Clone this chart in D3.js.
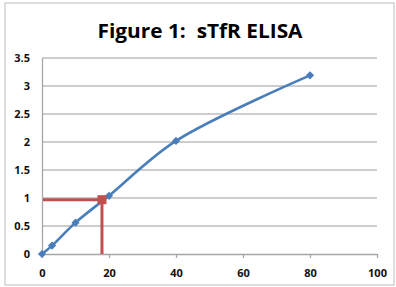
<!DOCTYPE html>
<meta charset="utf-8">
<style>
body { margin: 0; background: #fff; }
text { font-family: "Open Sans", "Liberation Sans", sans-serif; }
.grid line { stroke: #bdbdbd; stroke-width: 1.3px; }
.axis path, .axis line { stroke: #a6a6a6; stroke-width: 1.3px; }
.axis text { font-weight: bold; font-size: 11px; fill: #111; }
.curve { fill: none; stroke: #4a7ebb; stroke-width: 2.6px; }
.dot { fill: #4a7ebb; }
.readout { fill: none; stroke: #c0504d; stroke-width: 3px; }
</style>
<body>
<script src="https://cdn.jsdelivr.net/npm/d3@7"></script>
<script>
// standard curve points
var conc = [0, 3, 10, 20, 40, 80];
var absorb = [0, 0.15, 0.56, 1.04, 2.02, 3.19];
// red read-off point
var readX = [17.9];
var readY = [0.97];
var yTicks = [0, 0.5, 1, 1.5, 2, 2.5, 3, 3.5];
var xTicks = [0, 20, 40, 60, 80, 100];
var title = "Figure 1:  sTfR ELISA";

var W = 396, H = 287;
var margin = {top: 58, right: 19, bottom: 33, left: 42};

var x = d3.scaleLinear().domain([0, 100]).range([margin.left, W - margin.right]);
var y = d3.scaleLinear().domain([0, 3.5]).range([H - margin.bottom, margin.top]);

var svg = d3.select("body").append("svg")
    .attr("width", W)
    .attr("height", H);

// outer border of the chart
svg.append("rect")
    .attr("x", 5).attr("y", 3)
    .attr("width", 389).attr("height", 282)
    .attr("fill", "none")
    .attr("stroke", "#c8c8c8")
    .attr("stroke-width", 1.2);

svg.append("text")
    .attr("x", 200).attr("y", 38)
    .attr("text-anchor", "middle")
    .attr("font-weight", "bold")
    .attr("font-size", 19)
    .attr("textLength", 205)
    .attr("lengthAdjust", "spacingAndGlyphs")
    .style("white-space", "pre")
    .text(title);

// horizontal gridlines
svg.append("g").attr("class", "grid")
  .selectAll("line")
  .data(yTicks.slice(1))
  .join("line")
    .attr("x1", x(0)).attr("x2", x(100))
    .attr("y1", function(d) { return y(d); })
    .attr("y2", function(d) { return y(d); });

svg.append("g").attr("class", "axis")
    .attr("transform", "translate(" + x(0) + ",0)")
    .call(d3.axisLeft(y).tickValues(yTicks).tickSize(0).tickPadding(12)
      .tickFormat(function(d) { return d; }));

svg.append("g").attr("class", "axis")
    .attr("transform", "translate(0," + y(0) + ")")
    .call(d3.axisBottom(x).tickValues(xTicks).tickSize(4).tickSizeOuter(0).tickPadding(11));

var pts = conc.map(function(c, i) { return [c, absorb[i]]; });

var line = d3.line()
    .x(function(d) { return x(d[0]); })
    .y(function(d) { return y(d[1]); })
    .curve(d3.curveCatmullRom.alpha(0.5));

// red read-off lines (under the curve)
var rx = readX[0], ry = readY[0];
svg.append("path")
    .attr("class", "readout")
    .attr("d", "M" + (x(0) + 1) + "," + y(ry) + "H" + x(rx) + "V" + y(0));

svg.append("path")
    .datum(pts)
    .attr("class", "curve")
    .attr("d", line);

// diamonds: squares turned 45 degrees
svg.selectAll(".dot")
    .data(pts)
  .join("path")
    .attr("class", "dot")
    .attr("transform", function(d) { return "translate(" + x(d[0]) + "," + y(d[1]) + ") rotate(45)"; })
    .attr("d", d3.symbol().type(d3.symbolSquare).size(34));

// red marker sits on top of the curve
svg.append("rect")
    .attr("x", x(rx) - 4.5).attr("y", y(ry) - 4.5)
    .attr("width", 9).attr("height", 9)
    .attr("fill", "#c0504d");
</script>
</body>
